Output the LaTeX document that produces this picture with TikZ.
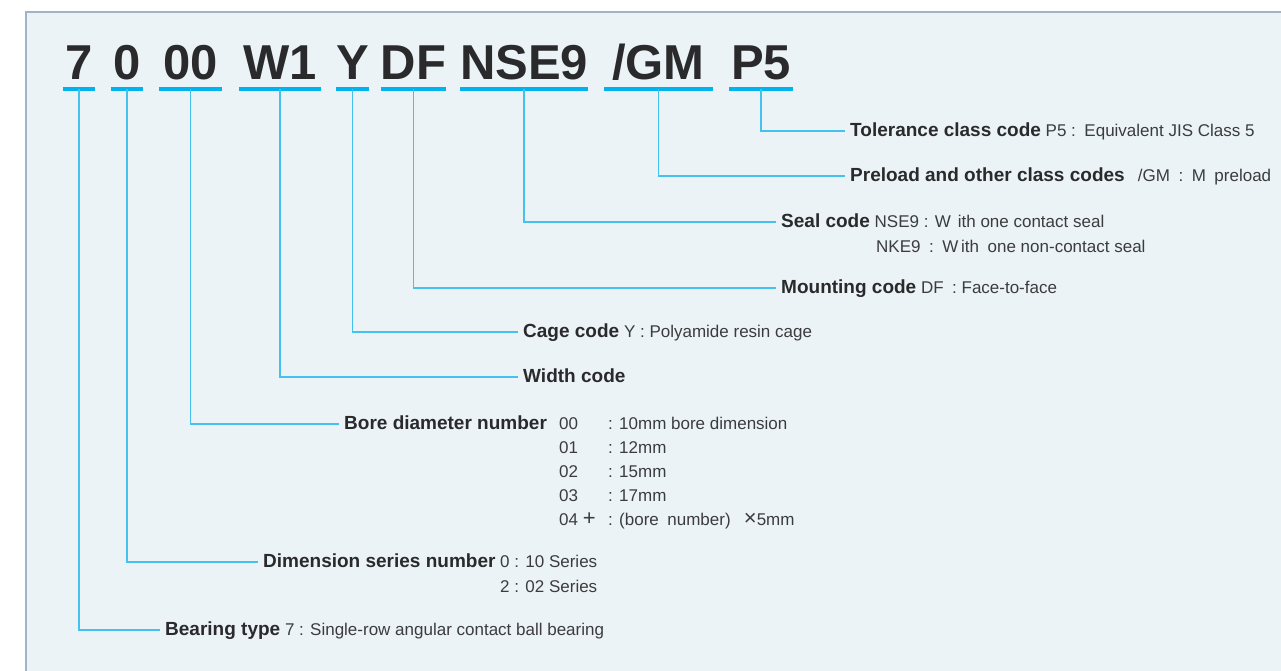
\documentclass[tikz,border=0pt]{standalone}
\usepackage{fontspec}
\setmainfont{Liberation Sans}
\usetikzlibrary{positioning,calc}
\definecolor{Ink}{HTML}{2A2A2C}
\definecolor{Body}{HTML}{3C3C3E}
\definecolor{Sky}{HTML}{00B2EE}
\definecolor{Lead}{HTML}{45C1F0}
\definecolor{Panel}{HTML}{EBF3F6}
\definecolor{Frame}{HTML}{9FB4C6}
\tikzset{
  code/.style={anchor=base,inner xsep=0pt,inner ysep=10pt,text depth=0pt,font=\fontsize{49}{50}\selectfont\bfseries,text=Ink},
  uline/.style={draw=Sky,line width=3.5pt},
  lead/.style={draw=Lead,line width=1.4pt},
  lab/.style={anchor=west,inner xsep=5pt,inner ysep=0pt,text height=13pt,text depth=3pt,font=\fontsize{17}{20}\selectfont,text=Body},
  sub/.style={lab,inner xsep=0pt}
}
\newcommand{\hd}[1]{{\fontsize{19}{20}\selectfont\bfseries\color{Ink}#1}}
\newcommand{\bigsym}[1]{{\fontsize{22}{20}\selectfont#1}}

\begin{document}
\begin{tikzpicture}[x=1pt,y=-1pt]
    \useasboundingbox (0,0) rectangle (1281,670);
    \fill[Panel] (26,12) rectangle (1290,680);
    \draw[Frame,line width=1.5pt] (26,680) -- (26,12) -- (1290,12);
    % code parts and their underlines
    \foreach \nm/\tx/\cx/\w in {c7/7/79/32,c0/0/127/32,c00/00/190.5/63,cW/W1/280/82,cY/Y/352.5/31,
        cDF/DF/413.5/60,cNSE/NSE9/524/128,cGM/{/GM}/658.5/109,cP/P5/761/64}{
      \node[code,minimum width=\w pt] (\nm) at (\cx,79) {\tx};
      \draw[uline] (\nm.south west) -- (\nm.south east);
    }
    % labels
    \node[lab] (lTol) at (845,131) {\hd{Tolerance class code} P5 :\enspace Equivalent JIS Class 5};
    \node[lab] (lPre) at (845,176) {\hd{Preload and other class codes} \enspace/GM\enspace:\enspace M\enspace preload};
    \node[lab] (lSeal) at (776,222) {\hd{Seal code} NSE9 : W\hspace{7pt}ith one contact seal};
    \node[sub] (lSeal2) at (876,247) {NKE9\enspace:\enspace W\,ith\enspace one non-contact seal};
    \node[lab] (lMount) at (776,288) {\hd{Mounting code} DF\enspace: Face-to-face};
    \node[lab] (lCage) at (518,332) {\hd{Cage code} Y : Polyamide resin cage};
    \node[lab] (lWidth) at (518,377) {\hd{Width code}};
    \node[lab] (lBore) at (339,424) {\hd{Bore diameter number}};
    \foreach \k/\v [count=\i from 0] in {00/10mm bore dimension,01/12mm,02/15mm,03/17mm}{
      \node[sub] (bk\i) at (559,424+24*\i) {\k};
      \node[sub] (bv\i) at (608,424+24*\i) {: \v};
    }
    \node[sub] (bk4) at (559,520) {04 \bigsym{+}};
    \node[sub] (bv4) at (608,520) {: (bore\enspace number)\enspace\ \bigsym{×}5mm};
    \node[lab] (lDim) at (258,562) {\hd{Dimension series number} 0 : 10 Series};
    \node[sub,anchor=north east] (lDim2) at ([xshift=-5pt,yshift=-9pt]lDim.south east) {2 : 02 Series};
    \node[lab] (lBear) at (160,630) {\hd{Bearing type} 7 : Single-row angular contact ball bearing};
    % leaders
    \draw[lead] (cP.south) |- (lTol.west);
    \draw[lead] (cGM.south) |- (lPre.west);
    \draw[lead] (cNSE.south) |- (lSeal.west);
    \draw[lead] (cDF.south) |- (lMount.west);
    \draw[lead] (cY.south) |- (lCage.west);
    \draw[lead] (cW.south) |- (lWidth.west);
    \draw[lead] (c00.south) |- (lBore.west);
    \draw[lead] (c0.south) |- (lDim.west);
    \draw[lead] (c7.south) |- (lBear.west);
\end{tikzpicture}
\end{document}
